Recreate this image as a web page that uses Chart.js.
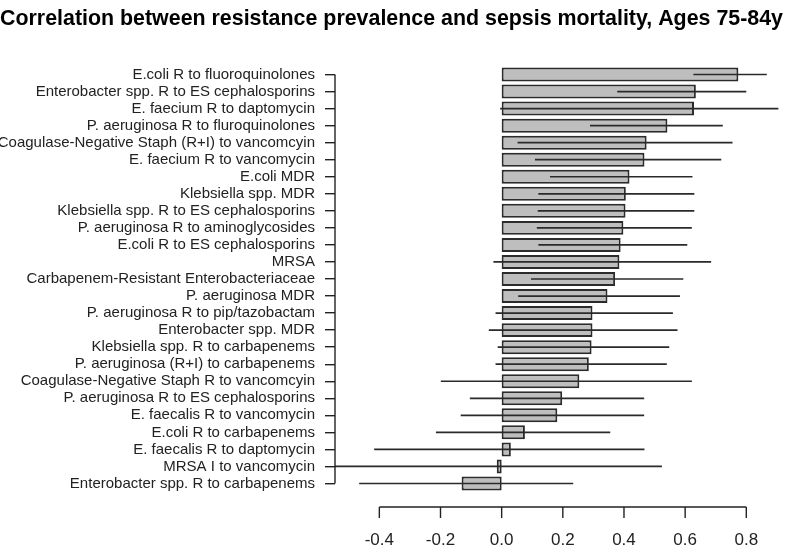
<!DOCTYPE html>
<html>
<head>
<meta charset="utf-8">
<script src="https://cdn.jsdelivr.net/npm/chart.js@4.4.1/dist/chart.umd.min.js"></script>
<style>
  html, body { margin: 0; padding: 0; background: #ffffff; }
  #wrap { width: 800px; height: 555px; }
</style>
</head>
<body>
<div id="wrap"><canvas id="c" width="800" height="555"></canvas></div>
<script>
// ---- data ----
const TITLE = 'Correlation between resistance prevalence and sepsis mortality, Ages 75-84y';
const categories = [
  'E.coli R to fluoroquinolones',
  'Enterobacter spp. R to ES cephalosporins',
  'E. faecium R to daptomycin',
  'P. aeruginosa R to fluroquinolones',
  'Coagulase-Negative Staph (R+I) to vancomcyin',
  'E. faecium R to vancomycin',
  'E.coli MDR',
  'Klebsiella spp. MDR',
  'Klebsiella spp. R to ES cephalosporins',
  'P. aeruginosa R to aminoglycosides',
  'E.coli R to ES cephalosporins',
  'MRSA',
  'Carbapenem-Resistant Enterobacteriaceae',
  'P. aeruginosa MDR',
  'P. aeruginosa R to pip/tazobactam',
  'Enterobacter spp. MDR',
  'Klebsiella spp. R to carbapenems',
  'P. aeruginosa (R+I) to carbapenems',
  'Coagulase-Negative Staph R to vancomcyin',
  'P. aeruginosa R to ES cephalosporins',
  'E. faecalis R to vancomycin',
  'E.coli R to carbapenems',
  'E. faecalis R to daptomycin',
  'MRSA I to vancomycin',
  'Enterobacter spp. R to carbapenems'
];
const correlation = [0.774, 0.635, 0.629, 0.542, 0.474, 0.467, 0.418, 0.406, 0.405, 0.398,
                     0.389, 0.385, 0.371, 0.346, 0.297, 0.297, 0.294, 0.285, 0.254, 0.198,
                     0.182, 0.076, 0.030, -0.016, -0.131];
const ciLower = [0.627, 0.378, -0.005, 0.289, 0.052, 0.109, 0.158, 0.120, 0.118, 0.115,
                 0.120, -0.027, 0.096, 0.054, -0.020, -0.042, -0.013, -0.020, -0.199, -0.104,
                 -0.134, -0.215, -0.417, -0.560, -0.466];
const ciUpper = [0.867, 0.800, 0.905, 0.723, 0.755, 0.718, 0.624, 0.630, 0.630, 0.622,
                 0.607, 0.685, 0.594, 0.583, 0.560, 0.575, 0.548, 0.540, 0.622, 0.466,
                 0.466, 0.355, 0.467, 0.524, 0.234];
const xTicks = [-0.4, -0.2, 0.0, 0.2, 0.4, 0.6, 0.8];

const FONT = "'Liberation Sans', Arial, Helvetica, sans-serif";
const INK = '#222222';

// error bars + R-style axes drawn through the chart's scales
const rStyle = {
  id: 'rStyle',
  afterDatasetsDraw(chart) {
    const ctx = chart.ctx, xs = chart.scales.x, ys = chart.scales.y, a = chart.chartArea;
    ctx.save();
    ctx.beginPath();
    ctx.rect(a.left, a.top, a.right - a.left, a.bottom - a.top);
    ctx.clip();
    ctx.strokeStyle = '#2a2a2a';
    ctx.lineWidth = 1.7;
    for (let i = 0; i < categories.length; i++) {
      const y = ys.getPixelForValue(i);
      ctx.beginPath();
      ctx.moveTo(xs.getPixelForValue(ciLower[i]), y);
      ctx.lineTo(xs.getPixelForValue(ciUpper[i]), y);
      ctx.stroke();
    }
    ctx.restore();
  },
  afterDraw(chart) {
    const ctx = chart.ctx, xs = chart.scales.x, ys = chart.scales.y, a = chart.chartArea;
    ctx.save();
    ctx.strokeStyle = INK;
    ctx.lineWidth = 1.4;
    // y axis line from first to last category
    ctx.beginPath();
    ctx.moveTo(a.left, ys.getPixelForValue(0));
    ctx.lineTo(a.left, ys.getPixelForValue(categories.length - 1));
    ctx.stroke();
    // x axis line + ticks, detached below the plot
    const yA = a.bottom + 15;
    ctx.beginPath();
    ctx.moveTo(xs.getPixelForValue(xTicks[0]), yA);
    ctx.lineTo(xs.getPixelForValue(xTicks[xTicks.length - 1]), yA);
    for (const t of xTicks) {
      const px = xs.getPixelForValue(t);
      ctx.moveTo(px, yA);
      ctx.lineTo(px, yA + 11);
    }
    ctx.stroke();
    ctx.restore();
  }
};

new Chart(document.getElementById('c'), {
  type: 'bar',
  data: {
    labels: categories,
    datasets: [{
      data: correlation,
      backgroundColor: '#bebebe',
      borderColor: '#2b2b2b',
      borderWidth: 2,
      borderSkipped: false,
      barPercentage: 0.82,
      categoryPercentage: 1.0
    }]
  },
  options: {
    indexAxis: 'y',
    responsive: false,
    animation: false,
    layout: { padding: { left: 0, right: 17, top: 0, bottom: 0 } },
    plugins: {
      legend: { display: false },
      tooltip: { enabled: false },
      title: {
        display: true,
        text: TITLE,
        color: '#000000',
        font: { family: FONT, size: 21.5, weight: 'bold' },
        padding: { top: 6, bottom: 34.2 }
      }
    },
    scales: {
      x: {
        type: 'linear',
        min: -0.545,
        max: 0.92,
        afterBuildTicks(scale) { scale.ticks = xTicks.map(v => ({ value: v })); },
        afterFit(scale) { scale.height = 63; },
        grid: { display: false, drawTicks: false },
        border: { display: false },
        ticks: {
          color: INK,
          padding: 38,
          font: { family: FONT, size: 17 },
          maxRotation: 0,
          autoSkip: false,
          callback: (v) => (Math.abs(v) < 1e-9 ? 0 : v).toFixed(1)
        }
      },
      y: {
        offset: true,
        afterFit(scale) { scale.width = 335; },
        grid: {
          display: true,
          drawOnChartArea: false,
          drawTicks: true,
          offset: false,
          tickLength: 10,
          color: INK,
          lineWidth: 1.4
        },
        border: { display: false },
        ticks: {
          color: INK,
          padding: 10,
          autoSkip: false,
          font: { family: FONT, size: 15 }
        }
      }
    }
  },
  plugins: [rStyle]
});
</script>
</body>
</html>
